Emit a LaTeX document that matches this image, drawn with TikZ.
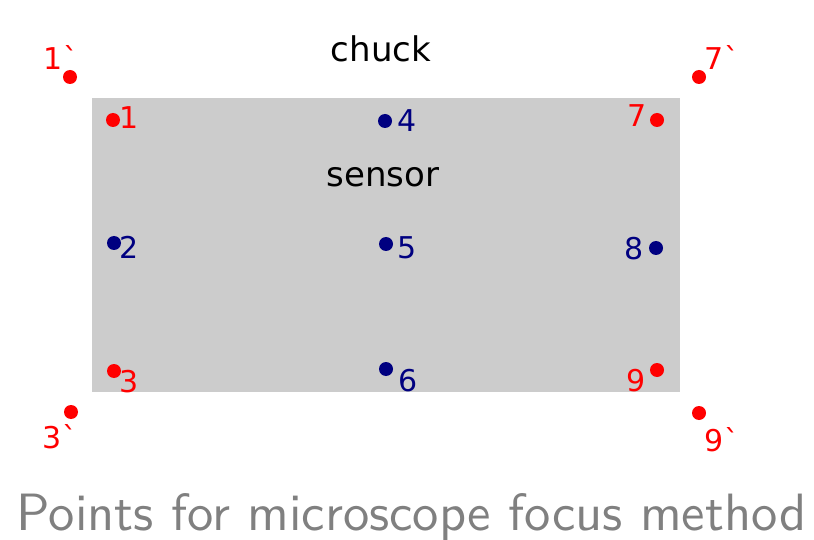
\documentclass[tikz,border=0pt]{standalone}
\usepackage{fontspec}
\newfontfamily\dv{DejaVu Sans}
\usepackage{graphicx}
\definecolor{sensorgray}{HTML}{CCCCCC}
\definecolor{ptred}{HTML}{FF0000}
\definecolor{ptblue}{HTML}{000080}
\definecolor{titlegray}{HTML}{808080}
\begin{document}
\begin{tikzpicture}[x=1pt,y=-1pt,
  reddot/.style={circle,fill=ptred,inner sep=0pt,minimum size=14pt},
  bluedot/.style={circle,fill=ptblue,inner sep=0pt,minimum size=14pt},
  redlbl/.style={text=ptred,font=\dv\fontsize{30}{30}\selectfont,inner sep=0pt},
  bluelbl/.style={text=ptblue,font=\dv\fontsize{30}{30}\selectfont,inner sep=0pt},
  bigword/.style={font=\dv\fontsize{34}{34}\selectfont,anchor=base,inner sep=0pt}]
\useasboundingbox (0,0) rectangle (814,540);
% sensor area
\fill[sensorgray] (92,98) rectangle (680,392);
\node[bigword] (chuck) at (381,62) {chuck};
\node[bigword] (sensor) at (383,187) {sensor};
% corner points on the chuck
\node[reddot] (p1s) at (70,77) {};
\node[reddot] (p7s) at (699,77) {};
\node[reddot] (p3s) at (71,412) {};
\node[reddot] (p9s) at (699,413) {};
\node[redlbl] (l1s) at (61,58) {1`};
\node[redlbl] (l7s) at (722,58) {7`};
\node[redlbl] (l3s) at (60,437) {3`};
\node[redlbl] (l9s) at (722,440) {9`};
% corner points on the sensor
\node[reddot] (p1) at (113,120) {};
\node[reddot] (p7) at (657,120) {};
\node[reddot] (p3) at (114,371) {};
\node[reddot] (p9) at (657,370) {};
\node[redlbl] (l1) at (129,118) {1};
\node[redlbl] (l7) at (637,116) {7};
\node[redlbl] (l3) at (129.5,382) {3};
\node[redlbl] (l9) at (636.5,381) {9};
% inner points
\node[bluedot] (p4) at (385,121) {};
\node[bluedot] (p2) at (114,243) {};
\node[bluedot] (p5) at (386,244) {};
\node[bluedot] (p8) at (656,248) {};
\node[bluedot] (p6) at (386,369) {};
\node[bluelbl] (l4) at (407.5,120.5) {4};
\node[bluelbl] (l2) at (129,247) {2};
\node[bluelbl] (l5) at (407.5,248) {5};
\node[bluelbl] (l8) at (634.5,249) {8};
\node[bluelbl] (l6) at (408,381) {6};
% caption
\node[anchor=base,inner sep=0pt,text=titlegray] (title) at (411.5,530)
  {\resizebox{789pt}{!}{\sffamily Points for microscope focus method}};
\end{tikzpicture}
\end{document}
